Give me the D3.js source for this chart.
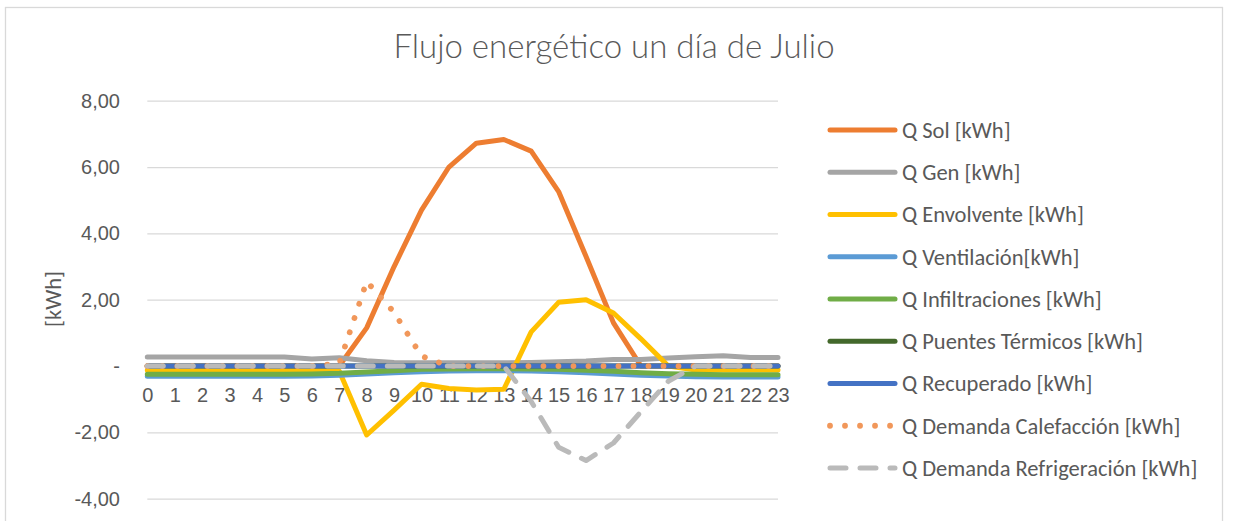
<!DOCTYPE html>
<html>
<head>
<meta charset="utf-8">
<script src="https://cdn.jsdelivr.net/npm/d3@7"></script>
<style>
  html, body { margin: 0; padding: 0; background: #fff; }
  svg { display: block; font-family: Calibri, Carlito, "Open Sans", sans-serif; }
</style>
</head>
<body>
<svg id="chart" width="1233" height="521"></svg>
<script>
// horas del día
var hours = d3.range(0, 24).map(String);

var qSol = [0, 0, 0, 0, 0, 0, 0, 0, 1.15, 3.0, 4.7, 6.0, 6.72, 6.83, 6.48, 5.26, 3.3, 1.3, 0, 0, 0, 0, 0, 0];
var qGen = [0.27, 0.27, 0.27, 0.27, 0.27, 0.27, 0.21, 0.25, 0.16, 0.11, 0.1, 0.1, 0.1, 0.1, 0.11, 0.13, 0.15, 0.2, 0.2, 0.24, 0.28, 0.31, 0.26, 0.26];
var qEnv = [-0.13, -0.13, -0.13, -0.13, -0.13, -0.13, -0.13, -0.15, -2.08, -1.33, -0.55, -0.68, -0.72, -0.7, 1.03, 1.92, 2.0, 1.6, 0.82, 0.0, -0.12, -0.12, -0.12, -0.12];
var qVent = [-0.31, -0.31, -0.31, -0.31, -0.31, -0.31, -0.3, -0.28, -0.24, -0.2, -0.17, -0.15, -0.14, -0.14, -0.15, -0.17, -0.2, -0.24, -0.28, -0.3, -0.32, -0.33, -0.33, -0.33];
var qInf = [-0.25, -0.25, -0.25, -0.25, -0.25, -0.25, -0.24, -0.22, -0.18, -0.14, -0.1, -0.09, -0.08, -0.08, -0.09, -0.1, -0.13, -0.16, -0.2, -0.23, -0.25, -0.26, -0.26, -0.26];
var qPuentes = [0, 0, 0, 0, 0, 0, 0, 0, 0, 0, 0, 0, 0, 0, 0, 0, 0, 0, 0, 0, 0, 0, 0, 0];
var qRecup = [0, 0, 0, 0, 0, 0, 0, 0, 0, 0, 0, 0, 0, 0, 0, 0, 0, 0, 0, 0, 0, 0, 0, 0];
var qCalef = [0, 0, 0, 0, 0, 0, 0, 0.07, 2.55, 1.62, 0.3, 0, 0, 0, 0, 0, 0, 0, 0, 0, 0, 0, 0, 0];
var qRefr = [0, 0, 0, 0, 0, 0, 0, 0, 0, 0, 0, 0, 0, 0, -1.07, -2.45, -2.85, -2.32, -1.38, -0.46, 0, 0, 0, 0];

var yTicks = [-4, -2, 0, 2, 4, 6, 8];

var series = [
    {name: "Q Sol [kWh]", values: qSol, color: "#ED7D31", dash: null},
    {name: "Q Gen [kWh]", values: qGen, color: "#A5A5A5", dash: null},
    {name: "Q Envolvente [kWh]", values: qEnv, color: "#FFC000", dash: null},
    {name: "Q Ventilación[kWh]", values: qVent, color: "#5B9BD5", dash: null},
    {name: "Q Infiltraciones [kWh]", values: qInf, color: "#70AD47", dash: null},
    {name: "Q Puentes Térmicos [kWh]", values: qPuentes, color: "#43682B", dash: null},
    {name: "Q Recuperado [kWh]", values: qRecup, color: "#4472C4", dash: null},
    {name: "Q Demanda Calefacción [kWh]", values: qCalef, color: "#F1975A", dash: "0.01,15"},
    {name: "Q Demanda Refrigeración [kWh]", values: qRefr, color: "#BABABA", dash: "16,14"}
];

const svg = d3.select("#chart");
const textColor = "#595959";
const lineW = 5;

// marco
svg.append("rect")
    .attr("x", 5.5).attr("y", 7.5)
    .attr("width", 1217).attr("height", 530)
    .attr("fill", "#fff")
    .attr("stroke", "#D9D9D9")
    .attr("stroke-width", 1.3);

svg.append("text")
    .attr("x", 614).attr("y", 58)
    .attr("text-anchor", "middle")
    .style("font-family", "Lato, Carlito, sans-serif")
    .style("font-size", "33px")
    .style("font-weight", 300)
    .style("fill", textColor)
    .text("Flujo energético un día de Julio");

const x = d3.scalePoint()
    .domain(hours)
    .range([147.3, 778]);

const y = d3.scaleLinear()
    .domain([-4, 8])
    .range([498.7, 100.7]);

// rejilla
const grid = svg.append("g")
    .attr("transform", "translate(147.3,0)")
    .call(d3.axisLeft(y).tickValues(yTicks).tickSize(-(778 - 147.3)).tickFormat(""));
grid.select(".domain").remove();
grid.selectAll("line").attr("stroke", "#D9D9D9").attr("stroke-width", 1.3);

// eje y
const yAxis = svg.append("g")
    .attr("transform", "translate(120,0)")
    .call(d3.axisLeft(y).tickValues(yTicks).tickSize(0).tickPadding(0)
        .tickFormat(function(d) {
            return d === 0 ? "-" : d3.format(".2f")(d).replace(".", ",").replace("\u2212", "-");
        }));
yAxis.select(".domain").remove();
yAxis.selectAll("text")
    .attr("x", 0)
    .attr("text-anchor", "end")
    .style("font-size", "20px")
    .style("fill", textColor);

svg.append("text")
    .attr("transform", "translate(53," + 299 + ") rotate(-90)")
    .attr("text-anchor", "middle")
    .attr("dominant-baseline", "central")
    .style("font-size", "22.5px")
    .style("fill", textColor)
    .text("[kWh]");

// eje x
const xAxis = svg.append("g")
    .attr("transform", "translate(0," + y(0) + ")")
    .call(d3.axisBottom(x).tickSize(0).tickPadding(0));
xAxis.select(".domain").remove();
xAxis.selectAll("text")
    .attr("y", 36)
    .attr("dy", 0)
    .style("font-size", "20px")
    .style("fill", textColor);

// series
const line = d3.line()
    .x(function(d, i) { return x(hours[i]); })
    .y(function(d) { return y(d); });

svg.append("g")
    .selectAll("path")
    .data(series)
    .enter()
    .append("path")
    .attr("d", function(s) { return line(s.values); })
    .attr("fill", "none")
    .attr("stroke", function(s) { return s.color; })
    .attr("stroke-width", function(s) { return s.dash === "0.01,15" ? 5.8 : lineW; })
    .attr("stroke-linejoin", "round")
    .attr("stroke-linecap", "round")
    .attr("stroke-dasharray", function(s) { return s.dash; });

// leyenda
const legend = svg.append("g")
    .selectAll("g")
    .data(series)
    .enter()
    .append("g")
    .attr("transform", function(s, i) { return "translate(0," + (130 + i * 42.25) + ")"; });

legend.append("line")
    .attr("x1", 830).attr("x2", 895)
    .attr("stroke", function(s) { return s.color; })
    .attr("stroke-width", function(s) { return s.dash === "0.01,15" ? 5.8 : lineW; })
    .attr("stroke-linecap", "round")
    .attr("stroke-dasharray", function(s) { return s.dash; });

legend.append("text")
    .attr("x", 902)
    .attr("dy", "0.35em")
    .style("font-size", "22.5px")
    .style("fill", textColor)
    .text(function(s) { return s.name; });
</script>
</body>
</html>
